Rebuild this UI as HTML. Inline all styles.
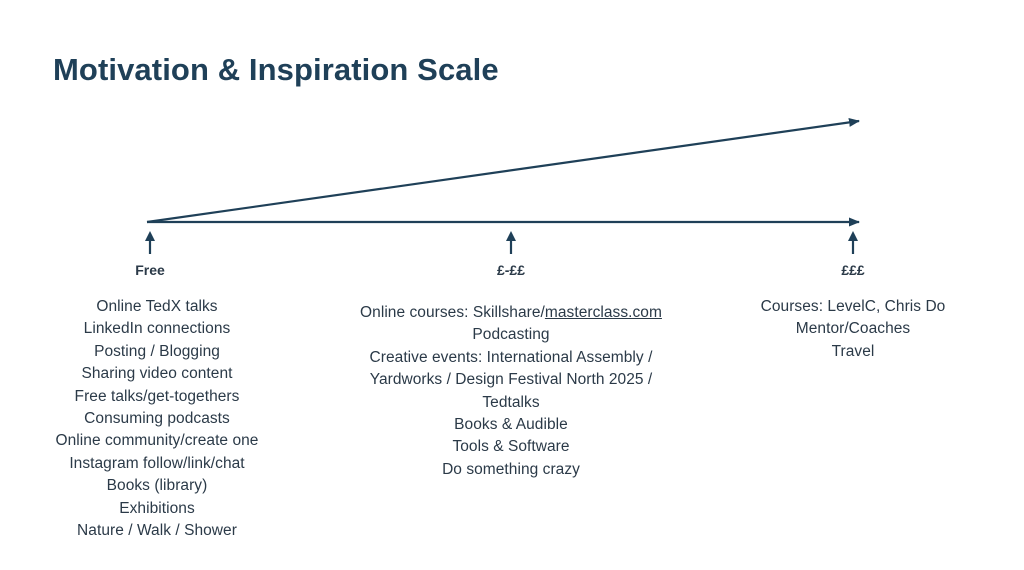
<!DOCTYPE html>
<html><head><meta charset="utf-8"><style>
body{margin:0;width:1024px;height:570px;background:#fff;position:relative;overflow:hidden;font-family:"Liberation Sans",sans-serif;color:#2b3a48}
h1{position:absolute;left:53px;top:52px;margin:0;font-size:31px;font-weight:bold;color:#1f4058;letter-spacing:0.1px}
.col{position:absolute;text-align:center;font-size:15.5px;line-height:22.4px;width:400px;letter-spacing:0.05px}
.hd{position:absolute;font-size:14px;font-weight:bold;color:#2b3a48;width:100px;text-align:center}
u{text-decoration:underline}
</style></head><body>
<h1>Motivation &amp; Inspiration Scale</h1>
<svg width="1024" height="570" style="position:absolute;left:0;top:0">
<defs><marker id="a" markerWidth="11" markerHeight="9" refX="10" refY="4.5" orient="auto" markerUnits="userSpaceOnUse"><path d="M0,0L11,4.5L0,9z" fill="#1f4058"/></marker></defs>
<g stroke="#1f4058" stroke-width="2.2" fill="none">
<line x1="147" y1="222" x2="859" y2="121" marker-end="url(#a)"/>
<line x1="147" y1="222" x2="859" y2="222" marker-end="url(#a)"/>
<line x1="150" y1="254" x2="150" y2="238"/>
<line x1="511" y1="254" x2="511" y2="238"/>
<line x1="853" y1="254" x2="853" y2="238"/>
</g>
<g fill="#1f4058">
<path d="M145,241L150,231L155,241z"/><path d="M506,241L511,231L516,241z"/><path d="M848,241L853,231L858,241z"/>
</g>
</svg>
<div class="hd" style="left:100px;top:262px">Free</div>
<div class="hd" style="left:461px;top:262px">£-££</div>
<div class="hd" style="left:803px;top:262px">£££</div>
<div class="col" style="left:-43px;top:296px">Online TedX talks<br>LinkedIn connections<br>Posting / Blogging<br>Sharing video content<br>Free talks/get-togethers<br>Consuming podcasts<br>Online community/create one<br>Instagram follow/link/chat<br>Books (library)<br>Exhibitions<br>Nature / Walk / Shower</div>
<div class="col" style="left:311px;top:302px">Online courses: Skillshare/<u>masterclass.com</u><br>Podcasting<br>Creative events: International Assembly /<br>Yardworks / Design Festival North 2025 /<br>Tedtalks<br>Books &amp; Audible<br>Tools &amp; Software<br>Do something crazy</div>
<div class="col" style="left:653px;top:296px">Courses: LevelC, Chris Do<br>Mentor/Coaches<br>Travel</div>
</body></html>
